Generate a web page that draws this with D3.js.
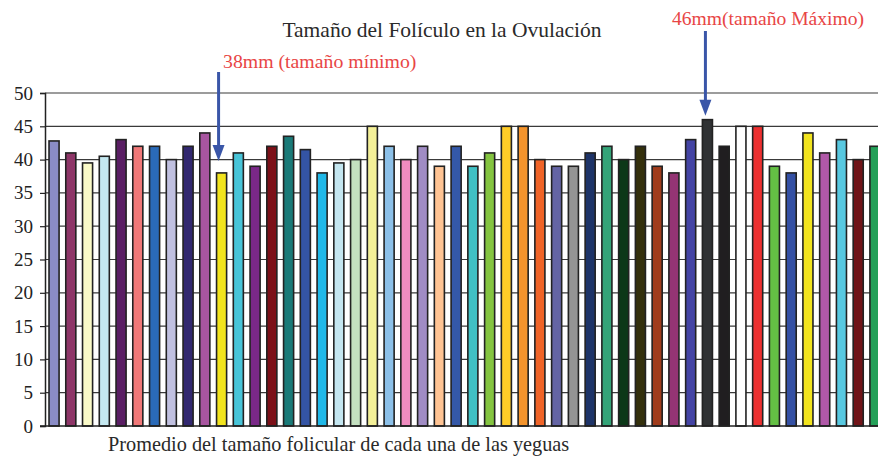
<html>
<head>
  <title>Tamaño del Folículo</title>
  <script src="https://d3js.org/d3.v7.min.js"></script>
  <style>
    body { margin: 0; background: #fff; }
    text { font-family: "Liberation Serif", "DejaVu Serif", serif; }
  </style>
</head>
<body>
  <div id="chart"></div>
  <script type="text/javascript">

    // one bar per mare, average follicle size (mm)
    var mares = d3.range(1, 51);
    var sizes = [42.8, 41, 39.5, 40.5, 43, 42, 42, 40, 42, 44,
                 38, 41, 39, 42, 43.5, 41.5, 38, 39.5, 40, 45,
                 42, 40, 42, 39, 42, 39, 41, 45, 45, 40,
                 39, 39, 41, 42, 40, 42, 39, 38, 43, 46,
                 42, 45, 45, 39, 38, 44, 41, 43, 40, 42];
    var palette = ['#8A8CC6', '#8E3668', '#FAFAC8', '#C4E8F0', '#5A1E64', '#F07878', '#2A6AB8', '#C0C0E0', '#322870', '#A855A0',
                   '#F2E41E', '#48C4D8', '#7A2888', '#7C1018', '#1A7A78', '#3454A4', '#20B8E8', '#C4E6F0', '#C4E0C0', '#F4F098',
                   '#8CC0E8', '#F08CC0', '#A08CC4', '#FFC494', '#3458A8', '#40C0C4', '#84C440', '#FFCC28', '#F4942C', '#F06428',
                   '#6464A4', '#949494', '#1E3468', '#34A478', '#0C3818', '#34300C', '#A03C1C', '#943474', '#4444A4', '#303234',
                   '#201E20', '#FFFFFF', '#EC3030', '#64C044', '#3450A4', '#F2E41E', '#B058A8', '#58C8E0', '#701418', '#24A058'];
    var yTicks = [0, 5, 10, 15, 20, 25, 30, 35, 40, 45, 50];

    var width = 878, height = 457;
    var plotLeft = 45, plotTop = 93, plotBottom = 426, plotRight = 884;

    var x = d3.scaleBand().domain(mares).range([plotLeft, plotRight]).paddingInner(0.4).paddingOuter(0.24);
    var y = d3.scaleLinear().domain([0, 50]).range([plotBottom, plotTop]);

    var svg = d3.select('#chart').append('svg')
                .attr('width', width)
                .attr('height', height);

    // gridlines
    svg.append('g')
       .selectAll('line')
       .data(yTicks.slice(1))
       .enter().append('line')
         .attr('x1', plotLeft)
         .attr('x2', width)
         .attr('y1', function(d) { return y(d); })
         .attr('y2', function(d) { return y(d); })
         .attr('stroke', '#3a3a3a')
         .attr('stroke-width', 1.2);

    // bars
    svg.append('g')
       .selectAll('rect')
       .data(sizes)
       .enter().append('rect')
         .attr('x', function(d, i) { return x(mares[i]); })
         .attr('y', function(d) { return y(d); })
         .attr('width', x.bandwidth())
         .attr('height', function(d) { return y(0) - y(d); })
         .attr('fill', function(d, i) { return palette[i]; })
         .attr('stroke', '#222')
         .attr('stroke-width', 1.6);

    var yAxis = d3.axisLeft(y).tickValues(yTicks).tickSize(5).tickPadding(7);
    var gy = svg.append('g')
                .attr('transform', 'translate(' + plotLeft + ',0)')
                .call(yAxis);
    gy.select('.domain').attr('stroke', '#222').attr('stroke-width', 1.5);
    gy.selectAll('.tick line').attr('stroke', '#222').attr('stroke-width', 1.2);
    gy.selectAll('.tick text')
      .attr('fill', '#222')
      .style('font-size', '19px')
      .style('font-family', '"Liberation Serif", serif');

    // x baseline
    svg.append('line')
       .attr('x1', plotLeft - 5).attr('x2', width)
       .attr('y1', y(0)).attr('y2', y(0))
       .attr('stroke', '#222').attr('stroke-width', 1.5);

    svg.append('text')
       .text('Tamaño del Folículo en la Ovulación')
       .attr('x', 442)
       .attr('y', 37)
       .attr('text-anchor', 'middle')
       .attr('fill', '#2a2a2a')
       .style('font-size', '21.5px');

    svg.append('text')
       .text('Promedio del tamaño folicular de cada una de las yeguas')
       .attr('x', 108)
       .attr('y', 451)
       .attr('fill', '#2a2a2a')
       .style('font-size', '20.3px');

    // min / max annotations
    var iMin = sizes.indexOf(d3.min(sizes));
    var iMax = sizes.indexOf(d3.max(sizes));

    function arrow(cx, y0, tip) {
      svg.append('line')
         .attr('x1', cx).attr('x2', cx)
         .attr('y1', y0).attr('y2', tip - 14)
         .attr('stroke', '#3A56A8').attr('stroke-width', 3);
      svg.append('path')
         .attr('d', 'M' + (cx - 6) + ',' + (tip - 16) + 'L' + (cx + 6) + ',' + (tip - 16) + 'L' + cx + ',' + tip + 'Z')
         .attr('fill', '#3A56A8');
    }

    var cMin = x(mares[iMin]) + x.bandwidth() / 2 - 3;
    arrow(cMin, 72, y(d3.min(sizes)) - 12);
    svg.append('text')
       .text(d3.min(sizes) + 'mm (tamaño mínimo)')
       .attr('x', 223)
       .attr('y', 68)
       .attr('fill', '#E84545')
       .style('font-size', '19.8px');

    var cMax = x(mares[iMax]) + x.bandwidth() / 2 - 2;
    arrow(cMax, 31, y(d3.max(sizes)) - 4);
    svg.append('text')
       .text(d3.max(sizes) + 'mm(tamaño Máximo)')
       .attr('x', 672)
       .attr('y', 25)
       .attr('fill', '#E84545')
       .style('font-size', '19.6px');

  </script>
</body>
</html>
